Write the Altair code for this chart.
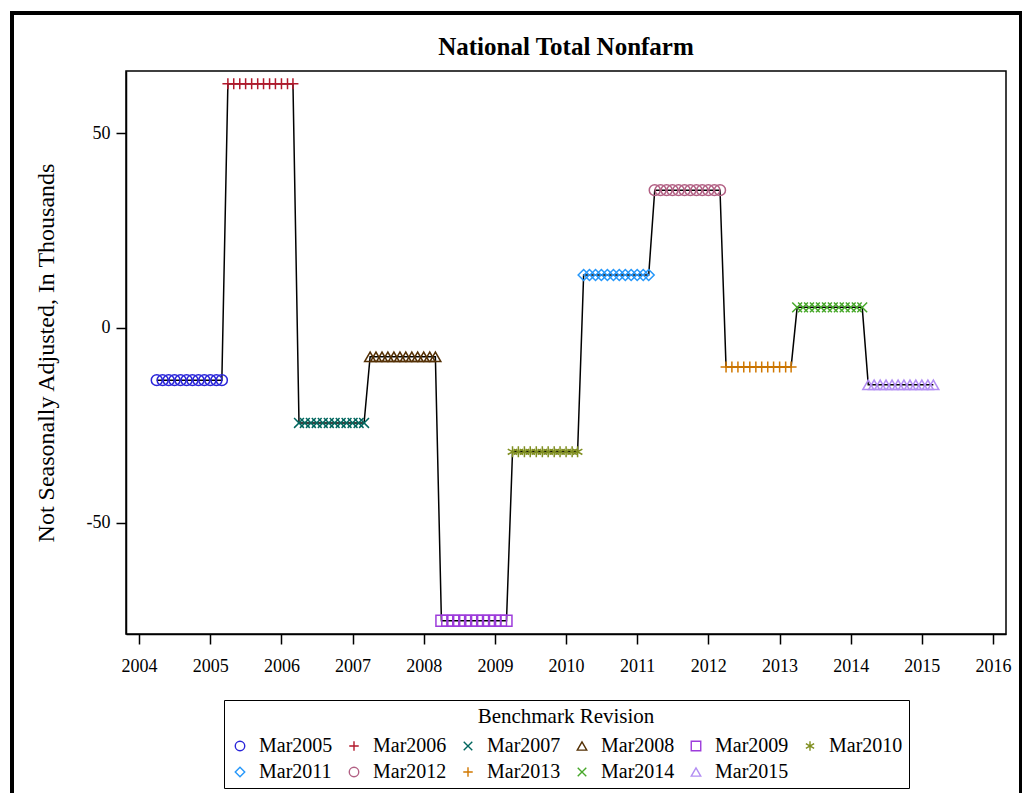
import altair as alt
import pandas as pd

revisions = ["Mar2005", "Mar2006", "Mar2007", "Mar2008", "Mar2009", "Mar2010",
             "Mar2011", "Mar2012", "Mar2013", "Mar2014", "Mar2015"]
values = [-13.4, 62.7, -24.4, -7.4, -75.2, -31.8, 13.6, 35.4, -10.0, 5.3, -14.6]
colors = ["#2A25D9", "#B2182B", "#01665E", "#543005", "#9D3CDB", "#7F8E1F",
          "#2597FA", "#B26084", "#D17800", "#47A82A", "#B38EF3"]
shapes = [
    "circle",
    "M-1,0L1,0M0,-1L0,1",
    "M-0.9,-0.9L0.9,0.9M-0.9,0.9L0.9,-0.9",
    "triangle-up",
    "square",
    "M0,-1L0,1M-0.87,-0.5L0.87,0.5M-0.87,0.5L0.87,-0.5",
    "diamond",
    "circle",
    "M-1,0L1,0M0,-1L0,1",
    "M-0.9,-0.9L0.9,0.9M-0.9,0.9L0.9,-0.9",
    "triangle-up",
]
year_ticks = list(range(2004, 2017))
y_ticks = [-50, 0, 50]

rows = []
for rev, val in zip(revisions, values):
    end_year = int(rev[3:])
    for d in pd.date_range(f"{end_year-1}-04-01", f"{end_year}-03-01", freq="MS"):
        rows.append({"date": d.strftime("%Y-%m-%d"), "value": val, "revision": rev})
df = pd.DataFrame(rows)

FONT = "Liberation Serif"

x_enc = alt.X("date:T", title=None,
              scale=alt.Scale(type="utc",
                              domain=[alt.DateTime(year=2003, month=10, date=26, utc=True),
                                      alt.DateTime(year=2016, month=3, date=8, utc=True)]),
              axis=alt.Axis(values=[alt.DateTime(year=y, month=1, date=1, utc=True) for y in year_ticks],
                            format="%Y", grid=False, tickSize=10, labelPadding=13,
                            labelFontSize=18, labelFont=FONT, labelColor="black",
                            domainColor="black", tickColor="black", tickWidth=1.5,
                            domainWidth=1.5, labelFlush=False))
y_enc = alt.Y("value:Q", title="Not Seasonally Adjusted, In Thousands",
              scale=alt.Scale(domain=[-78.6, 66.0], nice=False, zero=False),
              axis=alt.Axis(values=y_ticks, grid=False, tickSize=10, labelPadding=6,
                            labelExpr="'' + datum.value",
                            labelFontSize=18, labelFont=FONT, labelColor="black",
                            titleFont=FONT, titleFontSize=24, titleFontWeight="normal",
                            titleColor="black", titlePadding=28,
                            domainColor="black", tickColor="black", tickWidth=1.5,
                            domainWidth=1.5))

line = alt.Chart(df).mark_line(color="black", strokeWidth=1.5).encode(
    x=x_enc, y=y_enc, order="date:T")

points = alt.Chart(df).mark_point(filled=False, size=120, strokeWidth=1.5, opacity=1).encode(
    x="date:T", y="value:Q",
    color=alt.Color("revision:N", scale=alt.Scale(domain=revisions, range=colors),
                    legend=alt.Legend(title="Benchmark Revision", orient="none",
                                      legendX=98, legendY=629, direction="horizontal",
                                      columns=6, strokeColor="black", padding=6,
                                      titleAnchor="middle", titleFont=FONT,
                                      titleFontSize=21, titleFontWeight="normal",
                                      titleColor="black", labelFont=FONT,
                                      labelFontSize=20, labelColor="black",
                                      symbolSize=90, symbolStrokeWidth=1.4,
                                      columnPadding=11, rowPadding=6, labelOffset=9,
                                      titlePadding=9)),
    shape=alt.Shape("revision:N", scale=alt.Scale(domain=revisions, range=shapes)),
)

frame = alt.Chart(df).mark_rect(filled=False, stroke="black", strokeWidth=3, clip=False).encode(
    x=alt.value(-114), x2=alt.value(895), y=alt.value(-58), y2=alt.value(760))

chart = alt.layer(line, points, frame).properties(
    width=880, height=563,
    title=alt.TitleParams("National Total Nonfarm", font=FONT, fontSize=25,
                          fontWeight="bold", color="black", anchor="middle",
                          offset=-48, frame="group"),
    padding={"left": 118, "top": 63, "right": 16, "bottom": 159},
    autosize=alt.AutoSizeParams(type="none"),
).configure_view(stroke="black", strokeWidth=1.5)

chart.save("out.html", embed_options={"renderer": "svg", "actions": False})
